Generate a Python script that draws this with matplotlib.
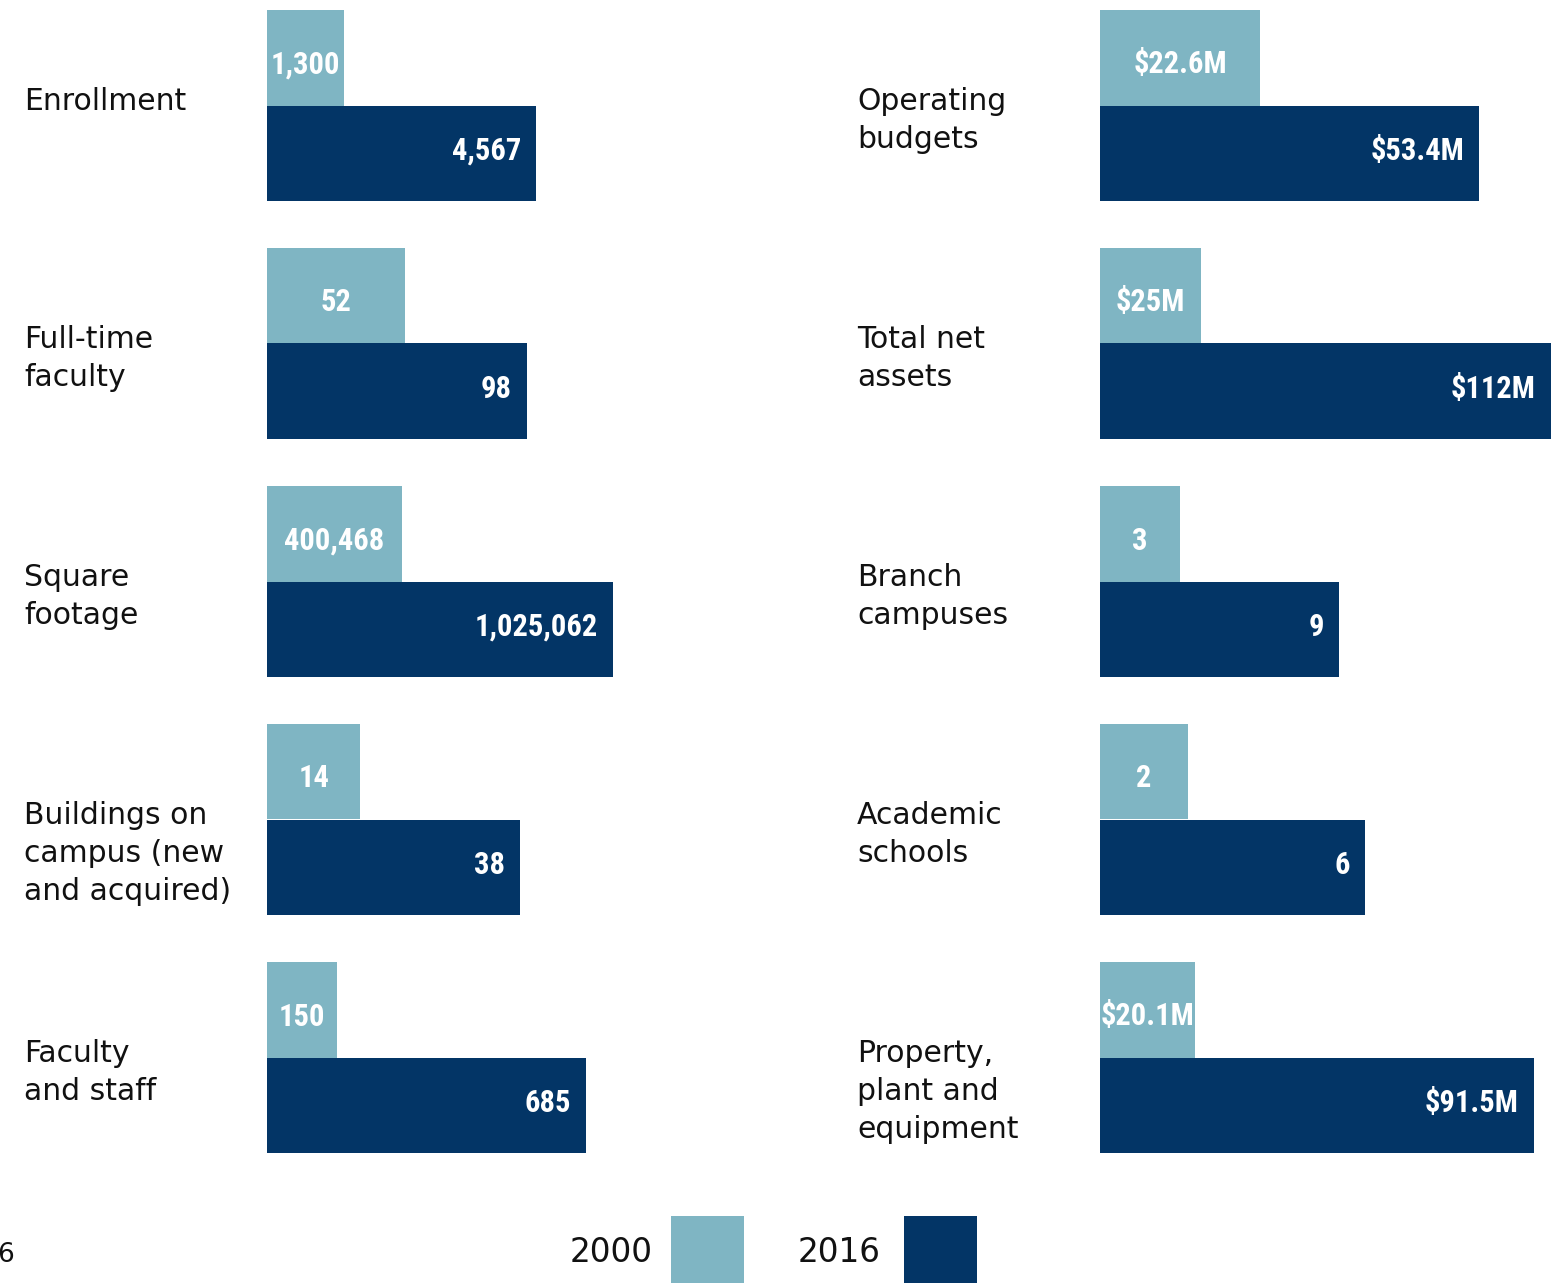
import matplotlib
matplotlib.use("Agg")
import matplotlib.pyplot as plt
from matplotlib.patches import Rectangle
from matplotlib import font_manager as fm

# ---------------- data ----------------
left_labels = ["Enrollment", "Full-time\nfaculty", "Square\nfootage",
               "Buildings on\ncampus (new\nand acquired)", "Faculty\nand staff"]
left_2000 = [1300, 52, 400468, 14, 150]
left_2016 = [4567, 98, 1025062, 38, 685]

right_labels = ["Operating\nbudgets", "Total net\nassets", "Branch\ncampuses",
                "Academic\nschools", "Property,\nplant and\nequipment"]
right_2000 = [22.6, 25, 3, 2, 20.1]
right_2016 = [53.4, 112, 9, 6, 91.5]
right_money = [True, True, False, False, True]

years = ["2000", "2016"]

# ---------------- style / layout ----------------
C2000 = "#7fb5c3"
C2016 = "#033566"
W, H = 1551, 1283
LABEL_FONT = "DejaVu Sans"

# choose a condensed bold face for the values if one is installed
_fonts = fm.fontManager.ttflist
_names = {f.name for f in _fonts}
VALUE_FONT = None
VALUE_STRETCH = "normal"
for cand in ["Liberation Sans Narrow", "Roboto Condensed", "Open Sans Condensed",
             "Noto Sans Condensed", "DejaVu Sans Condensed", "Arial Narrow"]:
    if cand in _names:
        VALUE_FONT = cand
        break
if VALUE_FONT is None:
    for fam in ["DejaVu Sans", "Noto Sans", "Open Sans", "Roboto", "Liberation Sans"]:
        if any(f.name == fam and str(f.stretch) in ("condensed", "semi-condensed",
                                                      "extra-condensed", "75", "87")
               for f in _fonts):
            VALUE_FONT = fam
            VALUE_STRETCH = "condensed"
            break
if VALUE_FONT is None:
    VALUE_FONT = "Roboto"
VALUE_SIZE = 22 if VALUE_STRETCH == "condensed" or "Narrow" in VALUE_FONT \
    or "Condensed" in VALUE_FONT else 19

# pixel widths of each panel's axes (per-panel scale, as in the original)
left_panel_px = [269, 260, 346, 253, 319]
right_panel_px = [379, 451, 239, 265, 434]

fig = plt.figure(figsize=(W / 100, H / 100), dpi=100)
fig.patch.set_facecolor("white")


def fx(x):
    return x / W


def fy(y):
    return 1 - y / H


def fmt(v, money):
    if money:
        return f"${v:g}M"
    return f"{v:,}"


def panel(col_x, label_x, row, label, v0, v1, money, width_px):
    top = 10 + 238 * row
    hgt = 191
    ax = fig.add_axes([fx(col_x), fy(top + hgt), width_px / W, hgt / H])
    ax.set_xlim(0, v1)
    ax.set_ylim(0, 2)
    ax.axis("off")
    ax.barh([1], [v0], height=1, align="edge", color=C2000, linewidth=0)
    ax.barh([0], [v1], height=1, align="edge", color=C2016, linewidth=0)
    kw = dict(textcoords="offset pixels", va="baseline", color="white",
              fontsize=VALUE_SIZE, fontweight="bold", family=VALUE_FONT,
              fontstretch=VALUE_STRETCH)
    ax.annotate(fmt(v0, money), xy=(v0 / 2, 1), xytext=(0, 32), ha="center", **kw)
    ax.annotate(fmt(v1, money), xy=(v1, 0), xytext=(-15, 41), ha="right", **kw)
    for k, line in enumerate(label.split("\n")):
        fig.text(fx(label_x), fy(top + 100 + 38 * k), line, ha="left",
                 va="baseline", fontsize=21.5, family=LABEL_FONT,
                 color="#111111")


for i in range(5):
    panel(267, 24, i, left_labels[i], left_2000[i], left_2016[i], False,
          left_panel_px[i])
    panel(1100, 857, i, right_labels[i], right_2000[i], right_2016[i],
          right_money[i], right_panel_px[i])

# legend
for txt, xr, sx, col in [(years[0], 653, 671, C2000), (years[1], 880, 904, C2016)]:
    fig.text(fx(xr), fy(1262), txt, ha="right", va="baseline", fontsize=23.5,
             family=LABEL_FONT, color="#111111")
    fig.add_artist(Rectangle((fx(sx), fy(1300)), 73 / W, 84 / H,
                             transform=fig.transFigure, color=col,
                             linewidth=0))

# page number
fig.text(fx(-3), fy(1262), "6", ha="left", va="baseline", fontsize=19,
         family=LABEL_FONT, color="#111111")

fig.savefig("out.png", dpi=100)
